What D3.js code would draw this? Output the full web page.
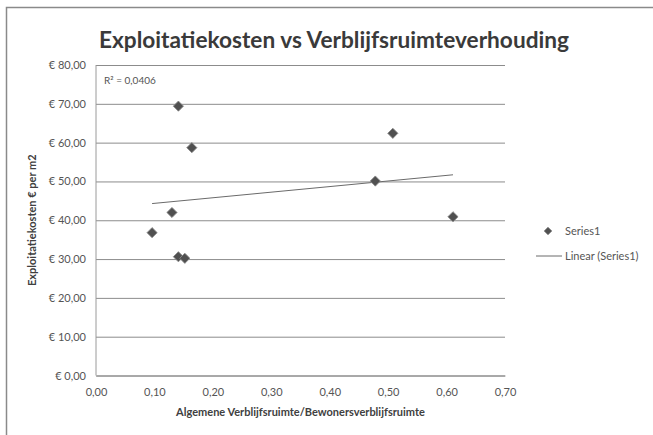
<!DOCTYPE html>
<html>
<head>
<meta charset="utf-8">
<script src="https://cdn.jsdelivr.net/npm/d3@7"></script>
<style>
  html, body { margin: 0; padding: 0; background: #fff; }
  svg { display: block; }
  text { font-family: Lato, "Open Sans", "DejaVu Sans", sans-serif; }
</style>
</head>
<body>
<svg id="chart" width="653" height="435"></svg>
<script>
// Verblijfsruimteverhouding per locatie
const ratioValues = [0.141, 0.164, 0.130, 0.096, 0.141, 0.152, 0.508, 0.478, 0.611];
// Exploitatiekosten in euro per m2
const costValues  = [69.4, 58.7, 42.0, 36.8, 30.6, 30.2, 62.4, 50.1, 40.9];
const xTickValues = [0, 0.1, 0.2, 0.3, 0.4, 0.5, 0.6, 0.7];
const yTickValues = [0, 10, 20, 30, 40, 50, 60, 70, 80];
const titleText = "Exploitatiekosten vs Verblijfsruimteverhouding";
const xAxisTitle = "Algemene Verblijfsruimte/Bewonersverblijfsruimte";
const yAxisTitle = "Exploitatiekosten  € per m2";
const seriesName = "Series1";
const trendName = "Linear (Series1)";
const rSquaredText = "R² = 0,0406";

const nl = d3.formatLocale({ decimal: ",", thousands: ".", grouping: [3], currency: ["€ ", ""] });
const fmtEuro = nl.format("$.2f");
const fmtRatio = nl.format(".2f");

const svg = d3.select("#chart");
const plotLeft = 96, plotRight = 505, plotTop = 65, plotBottom = 375.5;

const x = d3.scaleLinear().domain([0, 0.7]).range([plotLeft, plotRight]);
const y = d3.scaleLinear().domain([0, 80]).range([plotBottom, plotTop]);

// outer chart border
svg.append("path")
  .attr("d", "M6.5,435 V7.5 H653")
  .attr("fill", "none").attr("stroke", "#8a8a8a").attr("stroke-width", 1.5);

// title
svg.append("text")
  .attr("x", 334).attr("y", 48)
  .attr("text-anchor", "middle")
  .attr("font-size", 22).attr("font-weight", "bold").attr("fill", "#3a3a3a")
  .attr("textLength", 470).attr("lengthAdjust", "spacingAndGlyphs")
  .text(titleText);

// horizontal gridlines + y tick labels
const yAxis = svg.append("g")
  .attr("transform", `translate(${plotLeft},0)`)
  .call(d3.axisLeft(y).tickValues(yTickValues).tickFormat(fmtEuro)
    .tickSize(-(plotRight - plotLeft)).tickPadding(10));
yAxis.select(".domain").remove();
yAxis.selectAll(".tick line").attr("stroke", "#8c8c8c").attr("stroke-width", 1);
yAxis.selectAll(".tick text").attr("fill", "#555").attr("font-size", 11);

// vertical axis line
svg.append("line").attr("x1", plotLeft).attr("x2", plotLeft).attr("y1", plotTop).attr("y2", plotBottom)
  .attr("stroke", "#9a9a9a");

// x tick labels
const xAxis = svg.append("g")
  .attr("transform", `translate(0,${plotBottom})`)
  .call(d3.axisBottom(x).tickValues(xTickValues).tickFormat(fmtRatio)
    .tickSize(0).tickPadding(13));
xAxis.select(".domain").attr("stroke", "#8c8c8c");
xAxis.selectAll(".tick text").attr("fill", "#555").attr("font-size", 11);

// axis titles
svg.append("text")
  .attr("x", (plotLeft + plotRight) / 2).attr("y", 416)
  .attr("text-anchor", "middle")
  .attr("font-size", 11).attr("font-weight", "bold").attr("fill", "#404040")
  .text(xAxisTitle);

svg.append("text")
  .attr("transform", `translate(36,${(plotTop + plotBottom) / 2}) rotate(-90)`)
  .attr("text-anchor", "middle")
  .attr("font-size", 11).attr("font-weight", "bold").attr("fill", "#404040")
  .text(yAxisTitle);

// least-squares trend line across the observed x range
const pts = ratioValues.map((v, i) => [v, costValues[i]]);
const mx = d3.mean(ratioValues), my = d3.mean(costValues);
const slope = d3.sum(pts, p => (p[0] - mx) * (p[1] - my)) / d3.sum(pts, p => (p[0] - mx) ** 2);
const intercept = my - slope * mx;
const [xmin, xmax] = d3.extent(ratioValues);
svg.append("line")
  .attr("x1", x(xmin)).attr("y1", y(intercept + slope * xmin))
  .attr("x2", x(xmax)).attr("y2", y(intercept + slope * xmax))
  .attr("stroke", "#6a6a6a").attr("stroke-width", 1);

// data points as diamonds
const diamond = d3.symbol().type(d3.symbolSquare).size(52);
svg.append("g").selectAll("path")
  .data(pts)
  .join("path")
  .attr("d", diamond)
  .attr("transform", d => `translate(${x(d[0])},${y(d[1])}) rotate(45)`)
  .attr("fill", "#505050").attr("stroke", "#8a8a8a").attr("stroke-width", 0.8);

// R² label
svg.append("text")
  .attr("x", 104).attr("y", 84)
  .attr("font-size", 10).attr("fill", "#555")
  .text(rSquaredText);

// legend
const lg = svg.append("g");
lg.append("path").attr("d", d3.symbol().type(d3.symbolSquare).size(30))
  .attr("transform", "translate(548,231) rotate(45)")
  .attr("fill", "#505050").attr("stroke", "#8a8a8a").attr("stroke-width", 0.8);
lg.append("text").attr("x", 565).attr("y", 235).attr("font-size", 11).attr("fill", "#555").text(seriesName);
lg.append("line").attr("x1", 536).attr("x2", 562).attr("y1", 256).attr("y2", 256)
  .attr("stroke", "#6a6a6a").attr("stroke-width", 1);
lg.append("text").attr("x", 565).attr("y", 260).attr("font-size", 11).attr("fill", "#555").text(trendName);
</script>
</body>
</html>
